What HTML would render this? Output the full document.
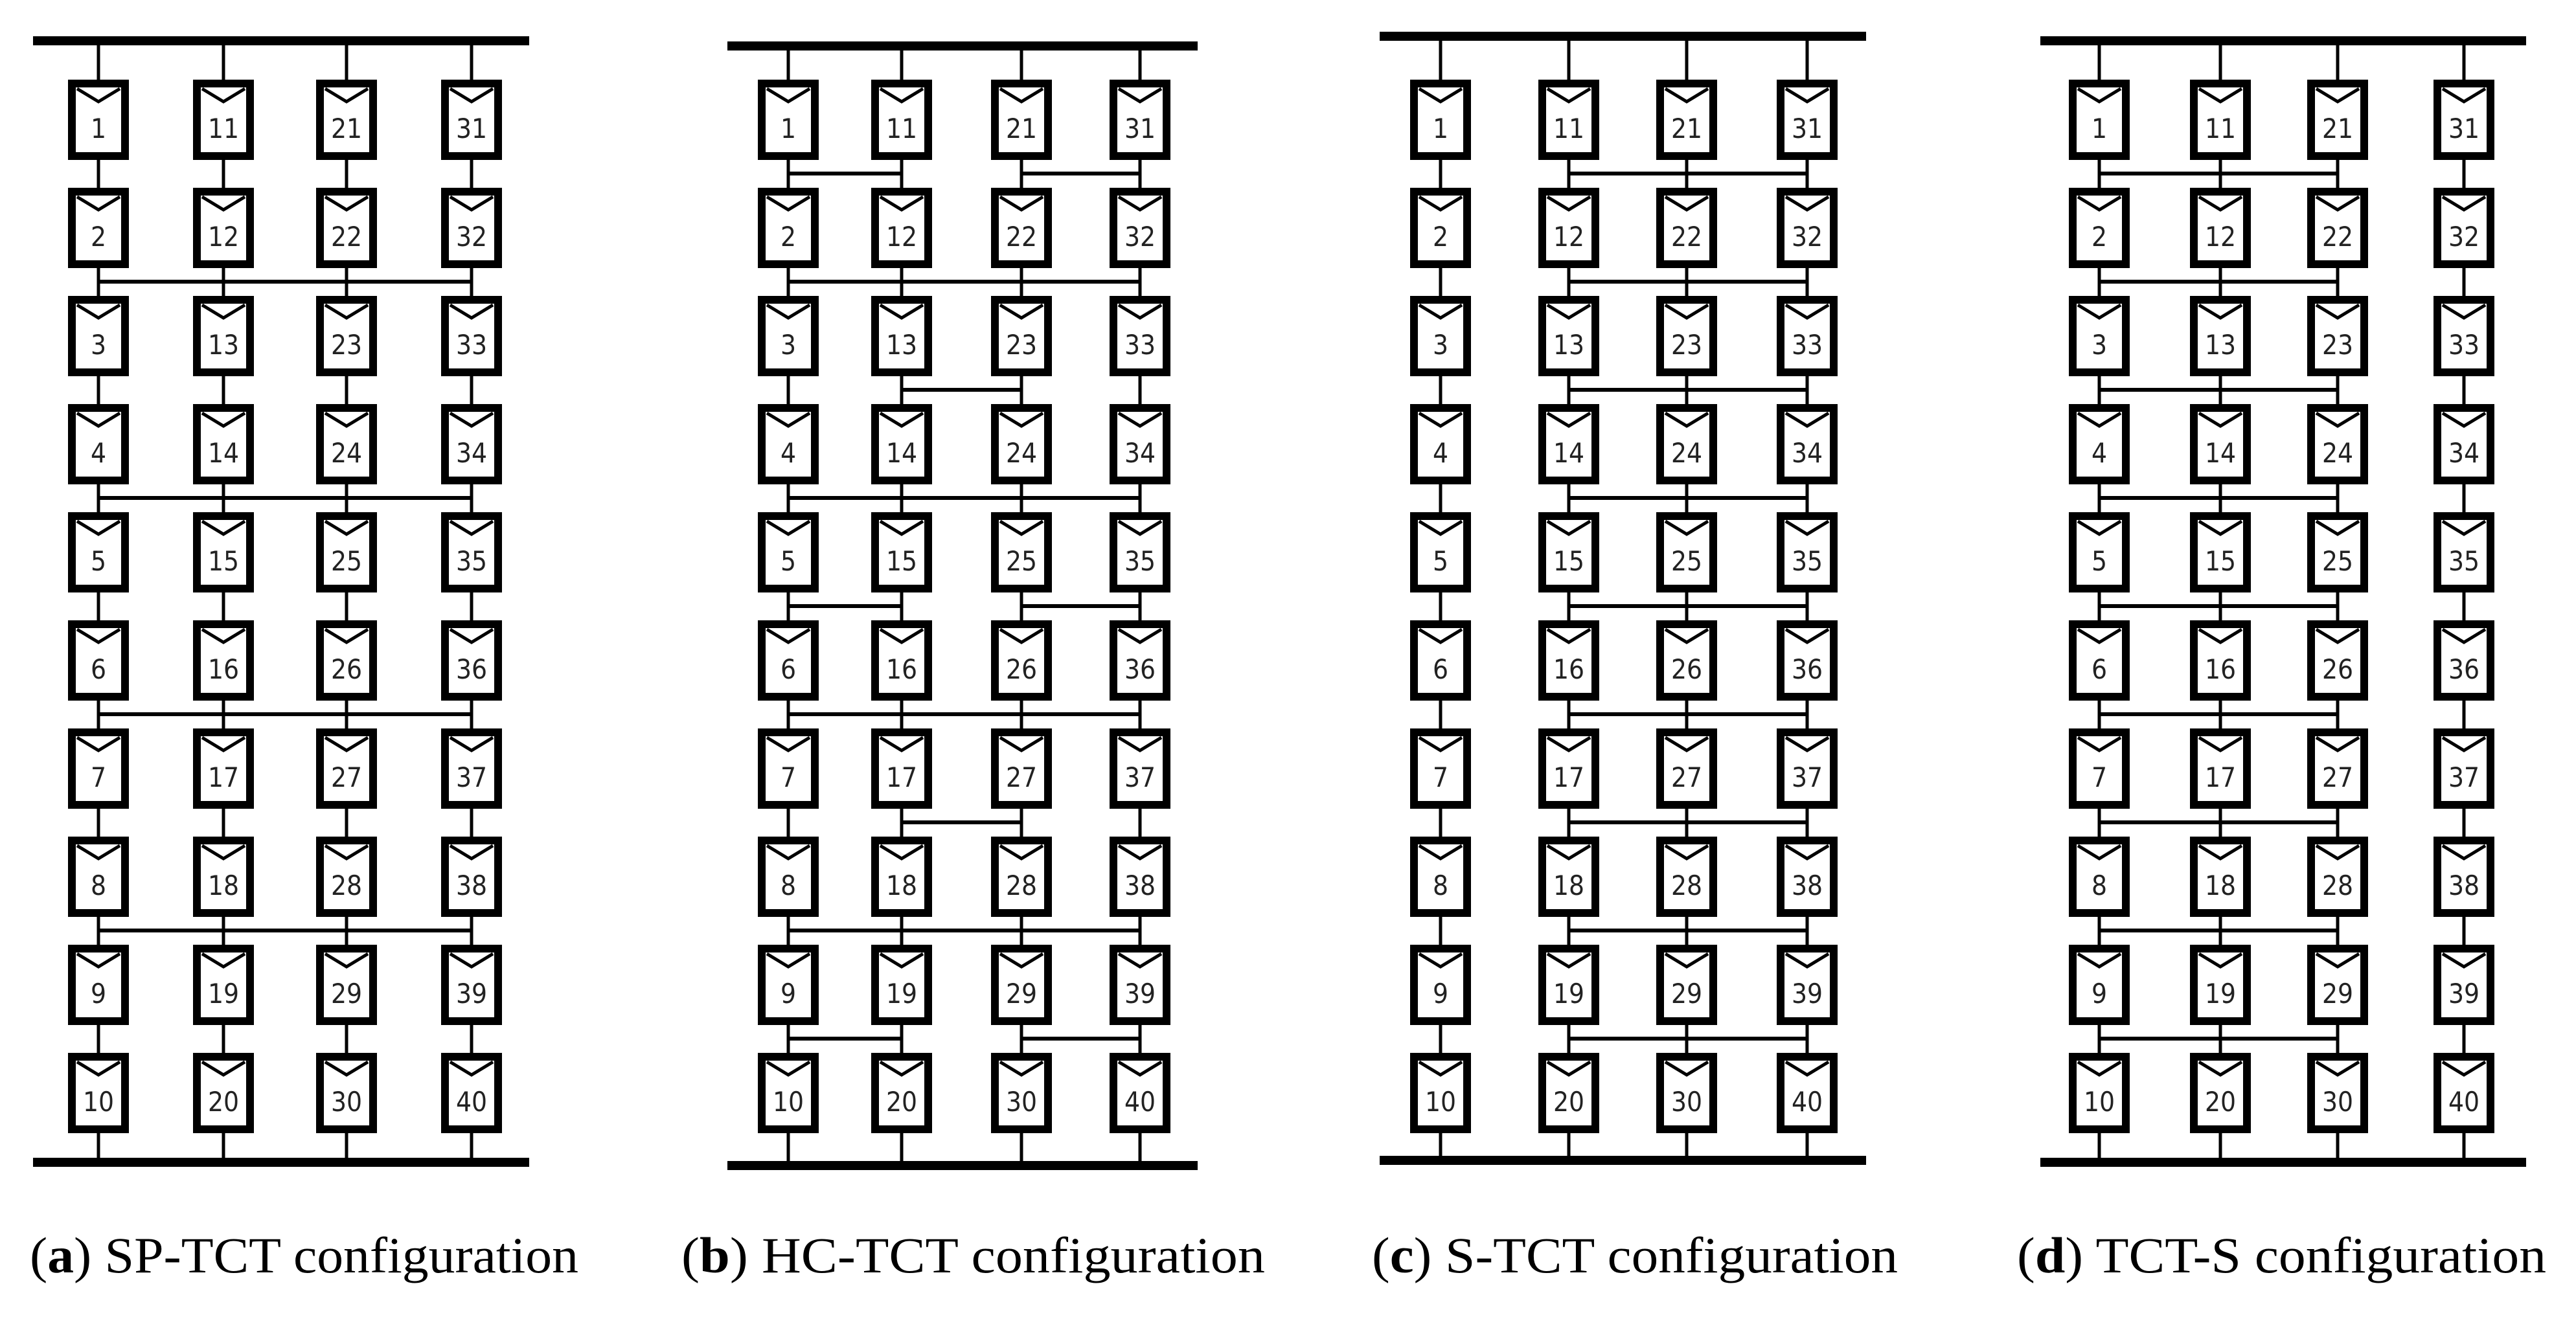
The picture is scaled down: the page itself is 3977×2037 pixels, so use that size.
<!DOCTYPE html>
<html><head><meta charset="utf-8"><style>
html,body{margin:0;padding:0;background:#fff;}
svg{display:block;}
</style></head><body>
<svg id="s" xmlns="http://www.w3.org/2000/svg" width="3977" height="2037" viewBox="0 0 3977 2037">
<rect width="3977" height="2037" fill="#fff"/>
<g id="g"></g>
<text x="46" y="1965" font-family="Liberation Serif, serif" font-size="78" textLength="847" lengthAdjust="spacingAndGlyphs">(<tspan font-weight="bold">a</tspan>) SP-TCT configuration</text>
<text x="1052" y="1965" font-family="Liberation Serif, serif" font-size="78" textLength="901" lengthAdjust="spacingAndGlyphs">(<tspan font-weight="bold">b</tspan>) HC-TCT configuration</text>
<text x="2118" y="1965" font-family="Liberation Serif, serif" font-size="78" textLength="812" lengthAdjust="spacingAndGlyphs">(<tspan font-weight="bold">c</tspan>) S-TCT configuration</text>
<text x="3114" y="1965" font-family="Liberation Serif, serif" font-size="78" textLength="817" lengthAdjust="spacingAndGlyphs">(<tspan font-weight="bold">d</tspan>) TCT-S configuration</text>
</svg>
<script>
var NS="http://www.w3.org/2000/svg";
var g=document.getElementById("g");
function el(t,a,txt){var e=document.createElementNS(NS,t);for(var k in a)e.setAttribute(k,a[k]);if(txt!==undefined)e.textContent=txt;g.appendChild(e);return e;}
var panels=[
 {cols:[152,345,535,728],bus:[51,817],ty:63,by:1795,links:[]},
 {cols:[1217,1392,1577,1760],bus:[1123,1849],ty:71,by:1800,links:[]},
 {cols:[2224,2422,2604,2790],bus:[2130,2881],ty:56,by:1792,links:[]},
 {cols:[3241,3428,3609,3804],bus:[3150,3900],ty:63,by:1795,links:[]}
];
[2,4,6,8].forEach(function(r){panels[0].links.push([r,0,3]);});
for(var r=1;r<=9;r++){
 if(r%2==0) panels[1].links.push([r,0,3]);
 else if(r%4==1){panels[1].links.push([r,0,1]);panels[1].links.push([r,2,3]);}
 else panels[1].links.push([r,1,2]);
 panels[2].links.push([r,1,3]);
 panels[3].links.push([r,0,2]);
}
var T0=123,P=167,H=124,W=94,B=12;
panels.forEach(function(p,pi){
 el("rect",{x:p.bus[0],y:p.ty-7,width:p.bus[1]-p.bus[0],height:14,fill:"#000"});
 el("rect",{x:p.bus[0],y:p.by-7,width:p.bus[1]-p.bus[0],height:14,fill:"#000"});
 p.cols.forEach(function(cx,ci){
  el("line",{x1:cx,y1:p.ty,x2:cx,y2:p.by,stroke:"#000","stroke-width":5});
  for(var r=0;r<10;r++){
   var y=T0+r*P, x=cx-W/2;
   el("rect",{x:x+B/2,y:y+B/2,width:W-B,height:H-B,fill:"#fff",stroke:"#000","stroke-width":B});
   el("polyline",{points:(x+B+2)+","+(y+B+2)+" "+cx+","+(y+B+22)+" "+(x+W-B-2)+","+(y+B+2),fill:"none",stroke:"#000","stroke-width":5});
   var n=ci*10+r+1;
   el("text",{x:cx,y:y+90,"text-anchor":"middle","font-family":"DejaVu Sans Condensed, DejaVu Sans, sans-serif","font-size":42,fill:"#222"},String(n));
  }
 });
 p.links.forEach(function(l){
  var y=T0+(l[0]-1)*P+H+21;
  el("line",{x1:p.cols[l[1]],y1:y,x2:p.cols[l[2]],y2:y,stroke:"#000","stroke-width":6});
 });
});
</script>
</body></html>
